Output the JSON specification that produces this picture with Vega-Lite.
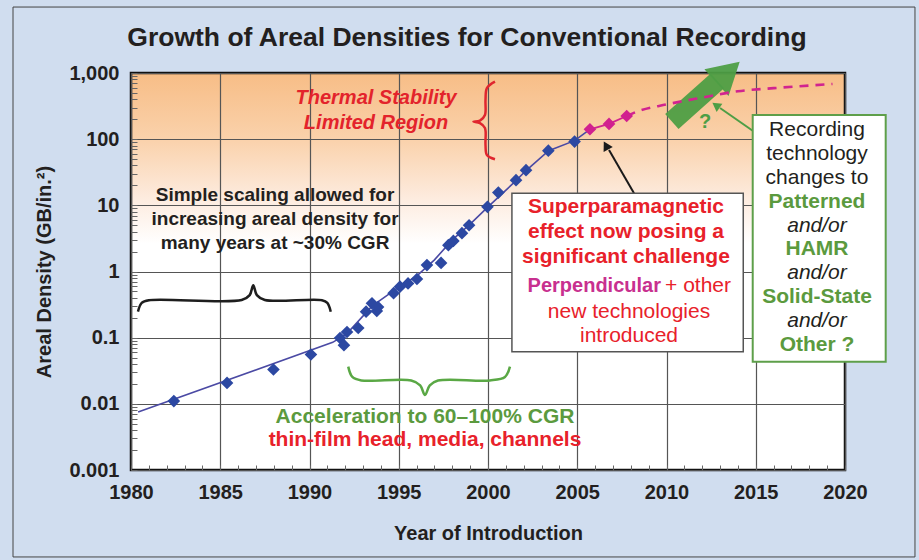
{
  "$schema": "https://vega.github.io/schema/vega-lite/v6.json",
  "width": 714,
  "height": 397,
  "autosize": {"type": "none"},
  "padding": {"left": 131, "top": 73, "right": 74, "bottom": 90},
  "background": "#d0ddef",
  "config": {
    "font": "Liberation Sans",
    "view": {
      "fill": {"gradient": "linear", "x1": 0, "y1": 0, "x2": 0, "y2": 1,
        "stops": [
          {"offset": 0, "color": "#f7bd86"},
          {"offset": 0.17, "color": "#fad2ac"},
          {"offset": 0.32, "color": "#fdece0"},
          {"offset": 0.43, "color": "#ffffff"},
          {"offset": 1, "color": "#ffffff"}
        ]},
      "stroke": "#111111",
      "strokeWidth": 2.5
    }
  },
  "resolve": {"scale": {"color": "independent"}},
  "data": {"values": [{}]},
  "datasets": {
    "drives": [
      {"year": 1982.4, "density": 0.011, "tech": "Longitudinal"},
      {"year": 1985.38, "density": 0.0207, "tech": "Longitudinal"},
      {"year": 1987.98, "density": 0.033, "tech": "Longitudinal"},
      {"year": 1990.08, "density": 0.0557, "tech": "Longitudinal"},
      {"year": 1991.71, "density": 0.099, "tech": "Longitudinal"},
      {"year": 1991.93, "density": 0.077, "tech": "Longitudinal"},
      {"year": 1992.1, "density": 0.122, "tech": "Longitudinal"},
      {"year": 1992.73, "density": 0.14, "tech": "Longitudinal"},
      {"year": 1993.17, "density": 0.247, "tech": "Longitudinal"},
      {"year": 1993.5, "density": 0.33, "tech": "Longitudinal"},
      {"year": 1993.77, "density": 0.253, "tech": "Longitudinal"},
      {"year": 1993.84, "density": 0.29, "tech": "Longitudinal"},
      {"year": 1994.71, "density": 0.47, "tech": "Longitudinal"},
      {"year": 1995.07, "density": 0.59, "tech": "Longitudinal"},
      {"year": 1995.52, "density": 0.66, "tech": "Longitudinal"},
      {"year": 1996.02, "density": 0.77, "tech": "Longitudinal"},
      {"year": 1996.58, "density": 1.25, "tech": "Longitudinal"},
      {"year": 1997.37, "density": 1.35, "tech": "Longitudinal"},
      {"year": 1997.78, "density": 2.5, "tech": "Longitudinal"},
      {"year": 1998.06, "density": 2.9, "tech": "Longitudinal"},
      {"year": 1998.54, "density": 3.8, "tech": "Longitudinal"},
      {"year": 1998.94, "density": 5.0, "tech": "Longitudinal"},
      {"year": 1999.97, "density": 9.5, "tech": "Longitudinal"},
      {"year": 2000.58, "density": 15.6, "tech": "Longitudinal"},
      {"year": 2001.57, "density": 24, "tech": "Longitudinal"},
      {"year": 2002.13, "density": 34, "tech": "Longitudinal"},
      {"year": 2003.38, "density": 67, "tech": "Longitudinal"},
      {"year": 2004.85, "density": 92, "tech": "Longitudinal"},
      {"year": 2005.71, "density": 141, "tech": "Perpendicular"},
      {"year": 2006.78, "density": 170, "tech": "Perpendicular"},
      {"year": 2007.77, "density": 224, "tech": "Perpendicular"}
    ],
    "trend": [
      {"year": 1980.4, "density": 0.0075},
      {"year": 1991.3, "density": 0.085},
      {"year": 1992.1, "density": 0.115},
      {"year": 1993.5, "density": 0.3},
      {"year": 1995.0, "density": 0.58},
      {"year": 1996.0, "density": 0.85},
      {"year": 1997.0, "density": 1.5},
      {"year": 1998.0, "density": 3.0},
      {"year": 1999.0, "density": 5.2},
      {"year": 2000.0, "density": 9.5},
      {"year": 2001.6, "density": 24},
      {"year": 2002.1, "density": 33},
      {"year": 2003.4, "density": 67},
      {"year": 2004.85, "density": 95},
      {"year": 2005.71, "density": 141}
    ],
    "projection": [
      {"year": 2007.77, "density": 224},
      {"year": 2008.5, "density": 270},
      {"year": 2010.0, "density": 335},
      {"year": 2012.0, "density": 425},
      {"year": 2014.0, "density": 530},
      {"year": 2016.0, "density": 590},
      {"year": 2019.3, "density": 682}
    ],
    "braces": [
      {"brace": "scaling", "i": 1, "year": 1980.39, "density": 0.247},
      {"brace": "scaling", "i": 2, "year": 1980.6, "density": 0.335},
      {"brace": "scaling", "i": 3, "year": 1981.0, "density": 0.368},
      {"brace": "scaling", "i": 4, "year": 1986.2, "density": 0.371},
      {"brace": "scaling", "i": 5, "year": 1986.65, "density": 0.44},
      {"brace": "scaling", "i": 6, "year": 1986.85, "density": 0.62},
      {"brace": "scaling", "i": 7, "year": 1987.05, "density": 0.44},
      {"brace": "scaling", "i": 8, "year": 1987.5, "density": 0.371},
      {"brace": "scaling", "i": 9, "year": 1990.7, "density": 0.368},
      {"brace": "scaling", "i": 10, "year": 1991.0, "density": 0.335},
      {"brace": "scaling", "i": 11, "year": 1991.19, "density": 0.247},
      {"brace": "acceleration", "i": 1, "year": 1992.17, "density": 0.0365},
      {"brace": "acceleration", "i": 2, "year": 1992.4, "density": 0.0255},
      {"brace": "acceleration", "i": 3, "year": 1992.9, "density": 0.0226},
      {"brace": "acceleration", "i": 4, "year": 1995.7, "density": 0.0225},
      {"brace": "acceleration", "i": 5, "year": 1996.2, "density": 0.019},
      {"brace": "acceleration", "i": 6, "year": 1996.47, "density": 0.0136},
      {"brace": "acceleration", "i": 7, "year": 1996.74, "density": 0.019},
      {"brace": "acceleration", "i": 8, "year": 1997.2, "density": 0.0225},
      {"brace": "acceleration", "i": 9, "year": 2000.1, "density": 0.0226},
      {"brace": "acceleration", "i": 10, "year": 2000.95, "density": 0.0255},
      {"brace": "acceleration", "i": 11, "year": 2001.23, "density": 0.0365},
      {"brace": "thermal", "i": 1, "year": 2000.39, "density": 740},
      {"brace": "thermal", "i": 2, "year": 1999.94, "density": 593},
      {"brace": "thermal", "i": 3, "year": 1999.86, "density": 391},
      {"brace": "thermal", "i": 4, "year": 1999.83, "density": 232},
      {"brace": "thermal", "i": 5, "year": 1999.55, "density": 191},
      {"brace": "thermal", "i": 6, "year": 1999.18, "density": 184},
      {"brace": "thermal", "i": 7, "year": 1999.55, "density": 175},
      {"brace": "thermal", "i": 8, "year": 1999.83, "density": 147.5},
      {"brace": "thermal", "i": 9, "year": 1999.86, "density": 81.6},
      {"brace": "thermal", "i": 10, "year": 1999.94, "density": 57.6},
      {"brace": "thermal", "i": 11, "year": 2000.39, "density": 49.7}
    ]
  },
  "layer": [
    {
      "data": {"name": "trend"},
      "mark": {"type": "line", "color": "#4b4aa4", "strokeWidth": 1.6},
      "encoding": {
        "x": {"field": "year", "type": "quantitative",
          "scale": {"domain": [1980, 2020], "nice": false, "zero": false},
          "axis": {
            "title": "Year of Introduction",
            "values": [1980,1981,1982,1983,1984,1985,1986,1987,1988,1989,1990,1991,1992,1993,1994,1995,1996,1997,1998,1999,2000,2001,2002,2003,2004,2005,2006,2007,2008,2009,2010,2011,2012,2013,2014,2015,2016,2017,2018,2019,2020],
            "tickCount": 100,
            "labelExpr": "datum.value % 5 === 0 ? format(datum.value, 'd') : ''",
            "labelOverlap": false,
            "labelFlush": false,
            "labelBound": false,
            "domain": false,
            "grid": true,
            "gridColor": "#555555",
            "gridWidth": 1.2,
            "gridOpacity": {"condition": {"test": "datum.value % 5 === 0", "value": 1}, "value": 0},
            "ticks": true,
            "tickSize": -5,
            "tickColor": "#666666",
            "tickWidth": 1,
            "labelFont": "Liberation Sans",
            "labelFontSize": 20,
            "labelFontWeight": "bold",
            "labelColor": "#231f20",
            "labelPadding": 17,
            "titleFont": "Liberation Sans",
            "titleFontSize": 20,
            "titleFontWeight": "bold",
            "titleColor": "#231f20",
            "titlePadding": 21
          }
        },
        "y": {"field": "density", "type": "quantitative",
          "scale": {"type": "log", "domain": [0.001, 1000], "nice": false},
          "axis": {
            "title": "Areal Density (GB/in.²)",
            "values": [0.001,0.002,0.003,0.004,0.005,0.006,0.007,0.008,0.009,0.01,0.02,0.03,0.04,0.05,0.06,0.07,0.08,0.09,0.1,0.2,0.3,0.4,0.5,0.6,0.7,0.8,0.9,1,2,3,4,5,6,7,8,9,10,20,30,40,50,60,70,80,90,100,200,300,400,500,600,700,800,900,1000],
            "tickCount": 100,
            "labelExpr": "abs(log(datum.value)/LN10 - round(log(datum.value)/LN10)) < 0.001 ? format(datum.value, ',~g') : ''",
            "labelOverlap": false,
            "labelFlush": false,
            "labelBound": false,
            "domain": false,
            "grid": true,
            "gridColor": "#555555",
            "gridWidth": 1.2,
            "gridOpacity": {"condition": {"test": "abs(log(datum.value)/LN10 - round(log(datum.value)/LN10)) < 0.001", "value": 1}, "value": 0},
            "ticks": true,
            "tickSize": -6,
            "tickColor": "#666666",
            "tickWidth": 1,
            "labelFont": "Liberation Sans",
            "labelFontSize": 20,
            "labelFontWeight": "bold",
            "labelColor": "#231f20",
            "labelPadding": 18,
            "titleFont": "Liberation Sans",
            "titleFontSize": 20,
            "titleFontWeight": "bold",
            "titleColor": "#231f20",
            "titlePadding": 14
          }
        }
      }
    },
    {
      "mark": {"type": "rect", "fill": "transparent", "stroke": "#444444", "strokeWidth": 1},
      "encoding": {
        "x": {"datum": 1973.39, "type": "quantitative", "scale": {"domain": [1980, 2020], "nice": false, "zero": false}},
        "x2": {"datum": 2023.92},
        "y": {"datum": 9930, "type": "quantitative", "scale": {"type": "log", "domain": [0.001, 1000], "nice": false}},
        "y2": {"datum": 0.0000485}
      }
    },
    {
      "data": {"name": "braces"},
      "mark": {"type": "line", "interpolate": "catmull-rom", "strokeWidth": 2.5},
      "encoding": {
        "x": {"field": "year", "type": "quantitative", "scale": {"domain": [1980, 2020], "nice": false, "zero": false}},
        "y": {"field": "density", "type": "quantitative", "scale": {"type": "log", "domain": [0.001, 1000], "nice": false}},
        "order": {"field": "i", "type": "quantitative"},
        "color": {"field": "brace", "type": "nominal",
          "scale": {"domain": ["scaling", "acceleration", "thermal"], "range": ["#1e1e1e", "#5aa845", "#e0262e"]},
          "legend": null}
      }
    },
    {
      "data": {"name": "drives"},
      "transform": [{"filter": "datum.tech === 'Perpendicular'"}],
      "mark": {"type": "line", "color": "#d1248f", "strokeWidth": 1.8},
      "encoding": {
        "x": {"field": "year", "type": "quantitative", "scale": {"domain": [1980, 2020], "nice": false, "zero": false}},
        "y": {"field": "density", "type": "quantitative", "scale": {"type": "log", "domain": [0.001, 1000], "nice": false}}
      }
    },
    {
      "mark": {"type": "rule", "color": "#4e9e45", "strokeWidth": 20, "strokeCap": "butt", "opacity": 0.95},
      "encoding": {
        "x": {"datum": 2010.3, "type": "quantitative", "scale": {"domain": [1980, 2020], "nice": false, "zero": false}},
        "y": {"datum": 185, "type": "quantitative", "scale": {"type": "log", "domain": [0.001, 1000], "nice": false}},
        "x2": {"datum": 2012.85},
        "y2": {"datum": 760}
      }
    },
    {
      "mark": {"type": "point", "shape": "triangle-up", "filled": true, "color": "#4e9e45", "size": 1300, "angle": 48, "opacity": 0.95},
      "encoding": {
        "x": {"datum": 2013.45, "type": "quantitative", "scale": {"domain": [1980, 2020], "nice": false, "zero": false}},
        "y": {"datum": 1030, "type": "quantitative", "scale": {"type": "log", "domain": [0.001, 1000], "nice": false}}
      }
    },
    {
      "data": {"name": "projection"},
      "mark": {"type": "line", "color": "#d1248f", "strokeWidth": 2.6, "strokeDash": [9, 7], "interpolate": "monotone"},
      "encoding": {
        "x": {"field": "year", "type": "quantitative", "scale": {"domain": [1980, 2020], "nice": false, "zero": false}},
        "y": {"field": "density", "type": "quantitative", "scale": {"type": "log", "domain": [0.001, 1000], "nice": false}}
      }
    },
    {
      "data": {"name": "drives"},
      "mark": {"type": "point", "shape": "diamond", "filled": true, "size": 160, "opacity": 1},
      "encoding": {
        "x": {"field": "year", "type": "quantitative", "scale": {"domain": [1980, 2020], "nice": false, "zero": false}},
        "y": {"field": "density", "type": "quantitative", "scale": {"type": "log", "domain": [0.001, 1000], "nice": false}},
        "color": {"field": "tech", "type": "nominal",
          "scale": {"domain": ["Longitudinal", "Perpendicular"], "range": ["#2c48a2", "#d1208f"]},
          "legend": null}
      }
    },
    {
      "mark": {"type": "rule", "color": "#1a1a1a", "strokeWidth": 2},
      "encoding": {
        "x": {"datum": 2008.18, "type": "quantitative", "scale": {"domain": [1980, 2020], "nice": false, "zero": false}},
        "y": {"datum": 15.2, "type": "quantitative", "scale": {"type": "log", "domain": [0.001, 1000], "nice": false}},
        "x2": {"datum": 2006.78},
        "y2": {"datum": 68.5}
      }
    },
    {
      "mark": {"type": "point", "shape": "triangle-up", "filled": true, "color": "#1a1a1a", "size": 110, "angle": 331, "opacity": 1},
      "encoding": {
        "x": {"datum": 2006.61, "type": "quantitative", "scale": {"domain": [1980, 2020], "nice": false, "zero": false}},
        "y": {"datum": 80.2, "type": "quantitative", "scale": {"type": "log", "domain": [0.001, 1000], "nice": false}}
      }
    },
    {
      "mark": {"type": "rule", "color": "#4e9e45", "strokeWidth": 2},
      "encoding": {
        "x": {"datum": 2014.85, "type": "quantitative", "scale": {"domain": [1980, 2020], "nice": false, "zero": false}},
        "y": {"datum": 132.9, "type": "quantitative", "scale": {"type": "log", "domain": [0.001, 1000], "nice": false}},
        "x2": {"datum": 2013.0},
        "y2": {"datum": 296}
      }
    },
    {
      "mark": {"type": "point", "shape": "triangle-up", "filled": true, "color": "#4e9e45", "size": 100, "angle": 305, "opacity": 1},
      "encoding": {
        "x": {"datum": 2012.77, "type": "quantitative", "scale": {"domain": [1980, 2020], "nice": false, "zero": false}},
        "y": {"datum": 325, "type": "quantitative", "scale": {"type": "log", "domain": [0.001, 1000], "nice": false}}
      }
    },
    {
      "mark": {"type": "rect", "fill": "#ffffff", "stroke": "#555555", "strokeWidth": 1.5},
      "encoding": {
        "x": {"datum": 2001.34, "type": "quantitative", "scale": {"domain": [1980, 2020], "nice": false, "zero": false}},
        "x2": {"datum": 2014.3},
        "y": {"datum": 15.2, "type": "quantitative", "scale": {"type": "log", "domain": [0.001, 1000], "nice": false}},
        "y2": {"datum": 0.0614}
      }
    },
    {
      "mark": {"type": "rect", "fill": "#ffffff", "stroke": "#5e9f4a", "strokeWidth": 2},
      "encoding": {
        "x": {"datum": 2014.83, "type": "quantitative", "scale": {"domain": [1980, 2020], "nice": false, "zero": false}},
        "x2": {"datum": 2022.28},
        "y": {"datum": 232, "type": "quantitative", "scale": {"type": "log", "domain": [0.001, 1000], "nice": false}},
        "y2": {"datum": 0.0434}
      }
    },
    {
      "mark": {"type": "text", "text": "Growth of Areal Densities for Conventional Recording", "font": "Liberation Sans", "fontSize": 26.5, "fontWeight": "bold", "color": "#231f20", "align": "center", "baseline": "middle"},
      "encoding": {
        "x": {"datum": 1998.82, "type": "quantitative", "scale": {"domain": [1980, 2020], "nice": false, "zero": false}},
        "y": {"datum": 3383, "type": "quantitative", "scale": {"type": "log", "domain": [0.001, 1000], "nice": false}}
      }
    },
    {
      "mark": {"type": "text", "text": ["Thermal Stability", "Limited Region"], "font": "Liberation Sans", "fontSize": 20, "fontWeight": "bold", "fontStyle": "italic", "color": "#e3232b", "lineHeight": 25, "align": "center", "baseline": "middle"},
      "encoding": {
        "x": {"datum": 1993.73, "type": "quantitative", "scale": {"domain": [1980, 2020], "nice": false, "zero": false}},
        "y": {"datum": 415, "type": "quantitative", "scale": {"type": "log", "domain": [0.001, 1000], "nice": false}}
      }
    },
    {
      "mark": {"type": "text", "text": ["Simple scaling allowed for", "increasing areal density for", "many years at ~30% CGR"], "font": "Liberation Sans", "fontSize": 19, "fontWeight": "bold", "color": "#231f20", "lineHeight": 24, "align": "center", "baseline": "middle"},
      "encoding": {
        "x": {"datum": 1988.07, "type": "quantitative", "scale": {"domain": [1980, 2020], "nice": false, "zero": false}},
        "y": {"datum": 14.3, "type": "quantitative", "scale": {"type": "log", "domain": [0.001, 1000], "nice": false}}
      }
    },
    {
      "mark": {"type": "text", "text": "Acceleration to 60–100% CGR", "font": "Liberation Sans", "fontSize": 21, "fontWeight": "bold", "color": "#5b9a3e", "align": "center", "baseline": "middle"},
      "encoding": {
        "x": {"datum": 1996.47, "type": "quantitative", "scale": {"domain": [1980, 2020], "nice": false, "zero": false}},
        "y": {"datum": 0.0064, "type": "quantitative", "scale": {"type": "log", "domain": [0.001, 1000], "nice": false}}
      }
    },
    {
      "mark": {"type": "text", "text": "thin-film head, media, channels", "font": "Liberation Sans", "fontSize": 21, "fontWeight": "bold", "color": "#e8212a", "align": "center", "baseline": "middle"},
      "encoding": {
        "x": {"datum": 1996.47, "type": "quantitative", "scale": {"domain": [1980, 2020], "nice": false, "zero": false}},
        "y": {"datum": 0.00284, "type": "quantitative", "scale": {"type": "log", "domain": [0.001, 1000], "nice": false}}
      }
    },
    {
      "mark": {"type": "text", "text": ["Superparamagnetic", "effect now posing a", "significant challenge"], "font": "Liberation Sans", "fontSize": 21, "fontWeight": "bold", "color": "#e8212a", "lineHeight": 25, "align": "center", "baseline": "middle"},
      "encoding": {
        "x": {"datum": 2007.73, "type": "quantitative", "scale": {"domain": [1980, 2020], "nice": false, "zero": false}},
        "y": {"datum": 9.54, "type": "quantitative", "scale": {"type": "log", "domain": [0.001, 1000], "nice": false}}
      }
    },
    {
      "mark": {"type": "text", "text": "Perpendicular", "font": "Liberation Sans", "fontSize": 20, "fontWeight": "bold", "color": "#c8308f", "align": "right", "baseline": "middle"},
      "encoding": {
        "x": {"datum": 2009.69, "type": "quantitative", "scale": {"domain": [1980, 2020], "nice": false, "zero": false}},
        "y": {"datum": 0.604, "type": "quantitative", "scale": {"type": "log", "domain": [0.001, 1000], "nice": false}}
      }
    },
    {
      "mark": {"type": "text", "text": "+ other", "font": "Liberation Sans", "fontSize": 21, "color": "#e8212a", "align": "left", "baseline": "middle"},
      "encoding": {
        "x": {"datum": 2009.92, "type": "quantitative", "scale": {"domain": [1980, 2020], "nice": false, "zero": false}},
        "y": {"datum": 0.604, "type": "quantitative", "scale": {"type": "log", "domain": [0.001, 1000], "nice": false}}
      }
    },
    {
      "mark": {"type": "text", "text": ["new technologies", "introduced"], "font": "Liberation Sans", "fontSize": 21, "color": "#e8212a", "lineHeight": 24, "align": "center", "baseline": "middle"},
      "encoding": {
        "x": {"datum": 2007.9, "type": "quantitative", "scale": {"domain": [1980, 2020], "nice": false, "zero": false}},
        "y": {"datum": 0.247, "type": "quantitative", "scale": {"type": "log", "domain": [0.001, 1000], "nice": false}}
      }
    },
    {
      "mark": {"type": "text", "text": ["Recording", "technology", "changes to"], "font": "Liberation Sans", "fontSize": 21, "color": "#231f20", "lineHeight": 23.9, "align": "center", "baseline": "middle"},
      "encoding": {
        "x": {"datum": 2018.43, "type": "quantitative", "scale": {"domain": [1980, 2020], "nice": false, "zero": false}},
        "y": {"datum": 137.6, "type": "quantitative", "scale": {"type": "log", "domain": [0.001, 1000], "nice": false}}
      }
    },
    {
      "mark": {"type": "text", "text": ["Patterned", "HAMR", "Solid-State", "Other ?"], "font": "Liberation Sans", "fontSize": 21, "fontWeight": "bold", "color": "#5b9a3e", "lineHeight": 47.8, "align": "center", "baseline": "middle"},
      "encoding": {
        "x": {"datum": 2018.43, "type": "quantitative", "scale": {"domain": [1980, 2020], "nice": false, "zero": false}},
        "y": {"datum": 11.35, "type": "quantitative", "scale": {"type": "log", "domain": [0.001, 1000], "nice": false}}
      }
    },
    {
      "mark": {"type": "text", "text": ["and/or", "and/or", "and/or"], "font": "Liberation Sans", "fontSize": 21, "fontStyle": "italic", "color": "#231f20", "lineHeight": 47.8, "align": "center", "baseline": "middle"},
      "encoding": {
        "x": {"datum": 2018.43, "type": "quantitative", "scale": {"domain": [1980, 2020], "nice": false, "zero": false}},
        "y": {"datum": 4.94, "type": "quantitative", "scale": {"type": "log", "domain": [0.001, 1000], "nice": false}}
      }
    },
    {
      "mark": {"type": "text", "text": "?", "font": "Liberation Sans", "fontSize": 20, "fontWeight": "bold", "color": "#4e9e45", "align": "center", "baseline": "middle"},
      "encoding": {
        "x": {"datum": 2012.16, "type": "quantitative", "scale": {"domain": [1980, 2020], "nice": false, "zero": false}},
        "y": {"datum": 182, "type": "quantitative", "scale": {"type": "log", "domain": [0.001, 1000], "nice": false}}
      }
    }
  ]
}
